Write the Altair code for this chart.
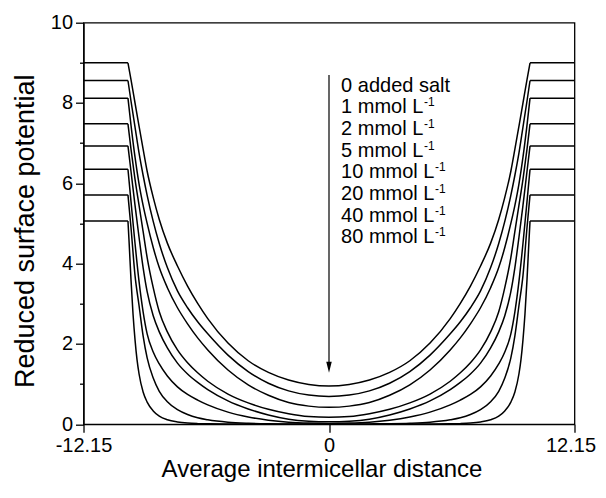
import altair as alt
import pandas as pd

# ---------------- data ----------------
curve_names = ["0 added salt", "1 mmol", "2 mmol", "5 mmol",
               "10 mmol", "20 mmol", "40 mmol", "80 mmol"]
levels = [9.0, 8.56, 8.12, 7.48, 6.93, 6.35, 5.71, 5.06]

x_grid = [-9.95, -9.8, -9.6, -9.4, -9.2, -9.0, -8.7, -8.4, -8.0, -7.5, -7.0,
          -6.5, -6.0, -5.0, -4.0, -3.0, -2.0, -1.0, 0.0, 1.0, 2.0, 3.0, 4.0,
          5.0, 6.0, 6.5, 7.0, 7.5, 8.0, 8.4, 8.7, 9.0, 9.2, 9.4, 9.6, 9.8, 9.95]

c0 = [9.0, 8.58, 8.0, 7.42, 6.85, 6.3, 5.65, 5.1, 4.51, 3.94, 3.44, 3.01, 2.63,
      2.02, 1.58, 1.29, 1.10, 0.99, 0.95, 0.99, 1.10, 1.29, 1.58, 2.02, 2.63,
      3.01, 3.44, 3.94, 4.51, 5.1, 5.65, 6.3, 6.85, 7.42, 8.0, 8.58, 9.0]
c1 = [8.56, 8.05, 7.4, 6.75, 6.2, 5.7, 5.05, 4.5, 3.9, 3.32, 2.9, 2.55, 2.25,
      1.72, 1.31, 1.02, 0.83, 0.725, 0.69, 0.725, 0.83, 1.02, 1.31, 1.72, 2.25,
      2.55, 2.9, 3.32, 3.9, 4.5, 5.05, 5.7, 6.2, 6.75, 7.4, 8.05, 8.56]
c2 = [8.12, 7.45, 6.65, 5.98, 5.45, 5.0, 4.4, 3.9, 3.4, 2.9, 2.5, 2.15, 1.85,
      1.35, 0.98, 0.72, 0.54, 0.45, 0.42, 0.45, 0.54, 0.72, 0.98, 1.35, 1.85,
      2.15, 2.5, 2.9, 3.4, 3.9, 4.4, 5.0, 5.45, 5.98, 6.65, 7.45, 8.12]
c3 = [7.48, 6.85, 6.1, 5.45, 4.8, 4.15, 3.4, 2.8, 2.3, 1.85, 1.53, 1.28, 1.07,
      0.75, 0.53, 0.37, 0.26, 0.19, 0.17, 0.19, 0.26, 0.37, 0.53, 0.75, 1.07,
      1.28, 1.53, 1.85, 2.3, 2.8, 3.4, 4.15, 4.8, 5.45, 6.1, 6.85, 7.48]
c4 = [6.93, 6.3, 5.45, 4.65, 3.9, 3.3, 2.7, 2.3, 1.9, 1.52, 1.25, 1.04, 0.86,
      0.58, 0.38, 0.23, 0.125, 0.075, 0.06, 0.075, 0.125, 0.23, 0.38, 0.58,
      0.86, 1.04, 1.25, 1.52, 1.9, 2.3, 2.7, 3.3, 3.9, 4.65, 5.45, 6.3, 6.93]
c5 = [6.35, 5.55, 4.5, 3.55, 2.8, 2.25, 1.8, 1.5, 1.2, 0.93, 0.74, 0.6, 0.48,
      0.3, 0.18, 0.1, 0.05, 0.027, 0.02, 0.027, 0.05, 0.1, 0.18, 0.3, 0.48,
      0.6, 0.74, 0.93, 1.2, 1.5, 1.8, 2.25, 2.8, 3.55, 4.5, 5.55, 6.35]
c6 = [5.71, 4.9, 3.7, 2.95, 2.2, 1.65, 1.15, 0.82, 0.56, 0.36, 0.24, 0.16, 0.11,
      0.05, 0.024, 0.012, 0.007, 0.004, 0.003, 0.004, 0.007, 0.012, 0.024, 0.05,
      0.11, 0.16, 0.24, 0.36, 0.56, 0.82, 1.15, 1.65, 2.2, 2.95, 3.7, 4.9, 5.71]

x_grid_80 = [-9.95, -9.9, -9.8, -9.7, -9.6, -9.5, -9.4, -9.2, -9.0, -8.7, -8.4,
             -8.0, -7.5, -7.0, -6.5, -6.0, -5.0, -4.0, -3.0, -2.0, 0.0, 2.0,
             3.0, 4.0, 5.0, 6.0, 6.5, 7.0, 7.5, 8.0, 8.4, 8.7, 9.0, 9.2, 9.4,
             9.5, 9.6, 9.7, 9.8, 9.9, 9.95]
c7 = [5.06, 4.6, 3.6, 2.75, 2.1, 1.6, 1.25, 0.8, 0.55, 0.33, 0.2, 0.11, 0.055,
      0.027, 0.014, 0.008, 0.003, 0.001, 0.0, 0.0, 0.0, 0.0, 0.0, 0.001, 0.003,
      0.008, 0.014, 0.027, 0.055, 0.11, 0.2, 0.33, 0.55, 0.8, 1.25, 1.6, 2.1,
      2.75, 3.6, 4.6, 5.06]

curves = [c0, c1, c2, c3, c4, c5, c6, c7]
grids = [x_grid] * 7 + [x_grid_80]

# flat plateaus (inside the micelles)
flat_left_x = [-12.15, -9.95]
flat_right_x = [9.95, 12.15]

# annotation text
label_main = ["0 added salt", "1 mmol L", "2 mmol L", "5 mmol L",
              "10 mmol L", "20 mmol L", "40 mmol L", "80 mmol L"]
label_y = [8.42, 7.89, 7.35, 6.81, 6.27, 5.73, 5.19, 4.65]
label_x = 0.6
arrow_x = 0.0
arrow_top = 8.7
arrow_bottom = 1.5
arrow_head_y = 1.42

x_ticks = [-12.15, 0, 12.15]
y_ticks = [0, 1, 2, 3, 4, 5, 6, 7, 8, 9, 10]

# ---------------- tables ----------------
rows = []
for name, xg, ys in zip(curve_names, grids, curves):
    for xv, yv in zip(xg, ys):
        rows.append({"x": xv, "y": yv, "curve": name})
df_curves = pd.DataFrame(rows)

frows = []
for name, lv in zip(curve_names, levels):
    for xv in flat_left_x:
        frows.append({"x": xv, "y": lv, "seg": name + " L"})
    for xv in flat_right_x:
        frows.append({"x": xv, "y": lv, "seg": name + " R"})
df_flat = pd.DataFrame(frows)

df_text = pd.DataFrame({"x": [label_x] * len(label_main), "y": label_y,
                        "t": label_main})
df_sup1 = df_text.iloc[1:4].assign(s="-1")
df_sup2 = df_text.iloc[4:].assign(s="-1")
df_arrow = pd.DataFrame({"x": [arrow_x], "y": [arrow_top], "y2": [arrow_bottom]})
df_head = pd.DataFrame({"x": [arrow_x], "y": [arrow_head_y]})

FONT = "Liberation Sans"
xs = alt.Scale(domain=[-12.15, 12.15], nice=False, zero=False)
ys_ = alt.Scale(domain=[0, 10], nice=False, zero=False)

x_axis = alt.Axis(
    values=x_ticks, title="Average intermicellar distance", grid=False,
    labelExpr="datum.value == 0 ? '0' : (datum.value < 0 ? '-' : '') + format(abs(datum.value), '.2f')",
    labelOffset={"condition": {"test": "datum.value > 1", "value": -4}, "value": 0},
    tickSize=8, labelPadding=3, titlePadding=2,
    labelFontSize=20, titleFontSize=24, labelFlush=False,
    titleX=238, titleAlign="center",
)
y_axis = alt.Axis(
    values=y_ticks, title="Reduced surface potential", grid=False,
    labelExpr="datum.value % 2 == 0 ? datum.label : ''",
    tickSize={"condition": {"test": "datum.value % 2 == 0", "value": 8}, "value": 4},
    labelPadding=3, titlePadding=11, labelFontSize=20, titleFontSize=27,
    labelFlush=False, titleY=208, titleAlign="center",
)

X = alt.X("x:Q", scale=xs, axis=x_axis)
Y = alt.Y("y:Q", scale=ys_, axis=y_axis)

lines = alt.Chart(df_curves).mark_line(
    interpolate="monotone", color="black", strokeWidth=1.5
).encode(x=X, y=Y, detail="curve:N")

flats = alt.Chart(df_flat).mark_line(color="black", strokeWidth=1.5).encode(
    x=X, y=Y, detail="seg:N")

texts = alt.Chart(df_text).mark_text(
    align="left", baseline="middle", font=FONT, fontSize=20, color="black"
).encode(x=X, y=Y, text="t:N")

sup1 = alt.Chart(df_sup1).mark_text(
    align="left", baseline="middle", font=FONT, fontSize=12, color="black", dx=83, dy=-5
).encode(x=X, y=Y, text="s:N")

sup2 = alt.Chart(df_sup2).mark_text(
    align="left", baseline="middle", font=FONT, fontSize=12, color="black", dx=94, dy=-5
).encode(x=X, y=Y, text="s:N")

arrow = alt.Chart(df_arrow).mark_rule(color="black", strokeWidth=1.2).encode(
    x=X, y=Y, y2="y2:Q")
head = alt.Chart(df_head).mark_point(
    shape="M-0.5,-1L0.5,-1L0,1Z", filled=True, color="black", size=121, opacity=1
).encode(x=X, y=Y)

chart = alt.layer(lines, flats, arrow, head, texts, sup1, sup2).properties(
    width=491, height=401.5,
    autosize=alt.AutoSizeParams(type="none"),
    padding={"left": 75.5, "top": 14.7, "right": 23.5, "bottom": 61},
    background="white",
).configure_view(
    stroke="black", strokeWidth=1.3
).configure_axis(
    labelFont=FONT, titleFont=FONT, labelColor="black", titleColor="black",
    domainColor="black", tickColor="black", domainWidth=1.3, tickWidth=1.3,
    titleFontWeight="normal",
)

chart.save("out.html", embed_options={"renderer": "svg", "actions": False})
